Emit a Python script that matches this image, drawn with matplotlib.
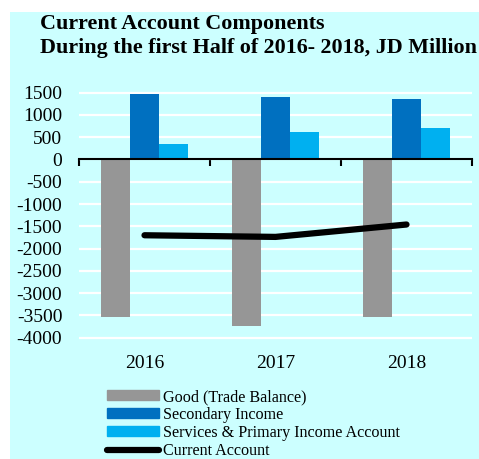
import numpy as np
import matplotlib
matplotlib.use('Agg')
import matplotlib.pyplot as plt
from matplotlib.patches import Rectangle, Patch
from matplotlib.lines import Line2D
import matplotlib.transforms as mtransforms

plt.rcParams['font.family'] = ['Liberation Serif', 'DejaVu Serif']

years = ['2016', '2017', '2018']
goods = [-3540, -3742, -3540]
secondary = [1466, 1392, 1347]
services = [359, 613, 718]
current = [-1700, -1737, -1459]

labels = ['Good (Trade Balance)', 'Secondary Income',
          'Services & Primary Income Account', 'Current Account']
c_goods = '#969696'
c_sec = '#0070C0'
c_serv = '#00B0F0'
bg = '#CCFFFF'

fig = plt.figure(figsize=(4.79, 4.59), dpi=100)
fig.patch.set_facecolor('white')
fig.patches.append(Rectangle((10 / 479, 0), 1, 1 - 12 / 459, transform=fig.transFigure,
                             facecolor=bg, edgecolor='none', zorder=-10))

ax = fig.add_axes([79 / 479, 1 - 342.2 / 459, (472 - 79) / 479, (342.2 - 88.2) / 459])
ax.set_facecolor('none')

x = np.arange(len(years))
w = 0.22
ax.bar(x - w, goods, w, color=c_goods, zorder=2)
ax.bar(x, secondary, w, color=c_sec, zorder=2)
ax.bar(x + w, services, w, color=c_serv, zorder=2)
ax.plot(x, current, color='black', linewidth=4.5, solid_capstyle='round', zorder=4)

ax.set_xlim(-0.5, 2.5)
ax.set_ylim(-4100, 1600)
ax.set_yticks(np.arange(-4000, 1501, 500))
ax.set_yticklabels([str(v) for v in np.arange(-4000, 1501, 500)], fontsize=14)
ax.tick_params(axis='y', length=0, pad=12)
ax.grid(axis='y', color='white', linewidth=1.6, zorder=1)
ax.set_axisbelow(True)

for s in ['left', 'right', 'top']:
    ax.spines[s].set_visible(False)
ax.spines['bottom'].set_position(('data', 0))
ax.spines['bottom'].set_linewidth(1.5)
ax.spines['bottom'].set_zorder(3)
ax.set_xticks([-0.5, 0.5, 1.5, 2.5])
ax.set_xticklabels([])
ax.tick_params(axis='x', direction='out', length=5, width=1.5)

trans = mtransforms.blended_transform_factory(ax.transData, ax.transAxes)
for i, yr in enumerate(years):
    ax.text(i, -0.082, yr, transform=trans, ha='center', va='center', fontsize=14)

fig.text(40 / 479, 1 - 24 / 459, 'Current Account Components', fontsize=15.8,
         fontweight='bold', va='center', ha='left')
fig.text(40 / 479, 1 - 48 / 459, 'During the first Half of 2016- 2018, JD Million', fontsize=15.8,
         fontweight='bold', va='center', ha='left')

handles = [Patch(color=c_goods), Patch(color=c_sec), Patch(color=c_serv),
           Line2D([0], [0], color='black', linewidth=4.5, solid_capstyle='round')]
fig.legend(handles, labels, loc='upper left', bbox_to_anchor=(107 / 479, 1 - 389 / 459),
           frameon=False, fontsize=11.6, handlelength=3.2, handleheight=0.55,
           handletextpad=0.3, labelspacing=0.12, borderpad=0, borderaxespad=0)

fig.savefig('out.png', dpi=100)
